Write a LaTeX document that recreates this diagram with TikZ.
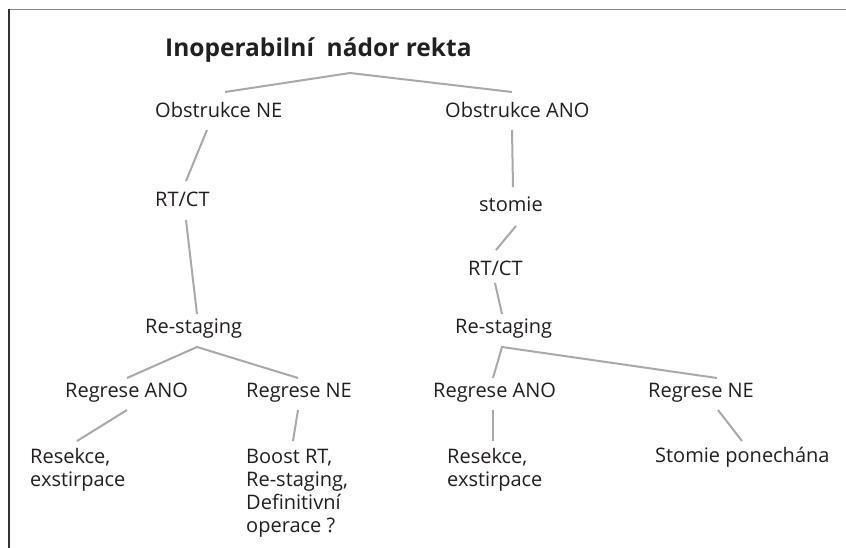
\documentclass[tikz,border=0pt]{standalone}
\usepackage{fontspec}
\setmainfont{Open Sans}
\definecolor{txtcol}{HTML}{231F20}
\definecolor{conncol}{HTML}{A7A9AC}
\definecolor{topcol}{HTML}{8A8A8A}
\definecolor{leftcol}{HTML}{333333}
\begin{document}
\begin{tikzpicture}[x=1pt,y=-1pt,
  lbl/.style={anchor=base west, inner sep=0pt, text=txtcol, font=\fontsize{20}{23}\selectfont, align=left},
  ttl/.style={anchor=base west, inner sep=0pt, text=txtcol, font=\bfseries\fontsize{24.5}{28}\selectfont},
  conn/.style={draw=conncol, line width=2pt},
  frametop/.style={draw=topcol, line width=1.6pt},
  frameleft/.style={draw=leftcol, line width=1.6pt}]
\useasboundingbox (0,0) rectangle (846,548);
\fill[white] (0,0) rectangle (846,548);
% frame
\coordinate (ftl) at (8,9.5);
\coordinate (ftr) at (846,9.5);
\coordinate (flt) at (9,9);
\coordinate (flb) at (9,548);
\draw[frametop] (ftl) -- (ftr);
\draw[frameleft] (flt) -- (flb);
% texts (multi-line nodes: base = baseline of last line)
\node[ttl] (title) at (165,57) {Inoperabilní\ \ nádor rekta};
\node[lbl] (obsne) at (155,118) {Obstrukce NE};
\node[lbl] (obsano) at (445,118) {Obstrukce ANO};
\node[lbl] (rtctl) at (155,207) {RT/CT};
\node[lbl] (restl) at (145,333) {Re-staging};
\node[lbl] (stomie) at (479,212) {stomie};
\node[lbl] (rtctr) at (468,275) {RT/CT};
\node[lbl] (restr) at (455,333) {Re-staging};
\node[lbl] (regal) at (65,397) {Regrese ANO};
\node[lbl] (regnl) at (246,397) {Regrese NE};
\node[lbl] (regar) at (433,397) {Regrese ANO};
\node[lbl] (regnr) at (648,397) {Regrese NE};
\node[lbl] (resl) at (30,486) {Resekce,\\exstirpace};
\node[lbl] (boost) at (246,532) {Boost RT,\\Re-staging,\\Definitivní\\operace ?};
\node[lbl] (resr) at (447,486) {Resekce,\\exstirpace};
\node[lbl] (stpon) at (655,462) {Stomie ponechána};
% connector end points
\coordinate (t1) at (225,92);
\coordinate (t0) at (350,73);
\coordinate (t2) at (512,92);
\coordinate (a1) at (207,130);
\coordinate (a2) at (186,181);
\coordinate (b1) at (186,220);
\coordinate (b2) at (197,314);
\coordinate (c0) at (197,347);
\coordinate (c1) at (127,378);
\coordinate (c2) at (298,378);
\coordinate (d1) at (127,410);
\coordinate (d2) at (77,441);
\coordinate (e1) at (298,410);
\coordinate (e2) at (293,441);
\coordinate (f1) at (512,130);
\coordinate (f2) at (513,187);
\coordinate (g1) at (516,226);
\coordinate (g2) at (496,250);
\coordinate (h1) at (495,283);
\coordinate (h2) at (502,314);
\coordinate (i0) at (502,347);
\coordinate (i1) at (493,378);
\coordinate (i2) at (717,378);
\coordinate (j1) at (493,410);
\coordinate (j2) at (493,441);
\coordinate (k1) at (718,410);
\coordinate (k2) at (742,441);
% connectors
\draw[conn] (t1) -- (t0) -- (t2);
\draw[conn] (a1) -- (a2);
\draw[conn] (b1) -- (b2);
\draw[conn] (c1) -- (c0) -- (c2);
\draw[conn] (d1) -- (d2);
\draw[conn] (e1) -- (e2);
\draw[conn] (f1) -- (f2);
\draw[conn] (g1) -- (g2);
\draw[conn] (h1) -- (h2);
\draw[conn] (i1) -- (i0) -- (i2);
\draw[conn] (j1) -- (j2);
\draw[conn] (k1) -- (k2);
\end{tikzpicture}
\end{document}
